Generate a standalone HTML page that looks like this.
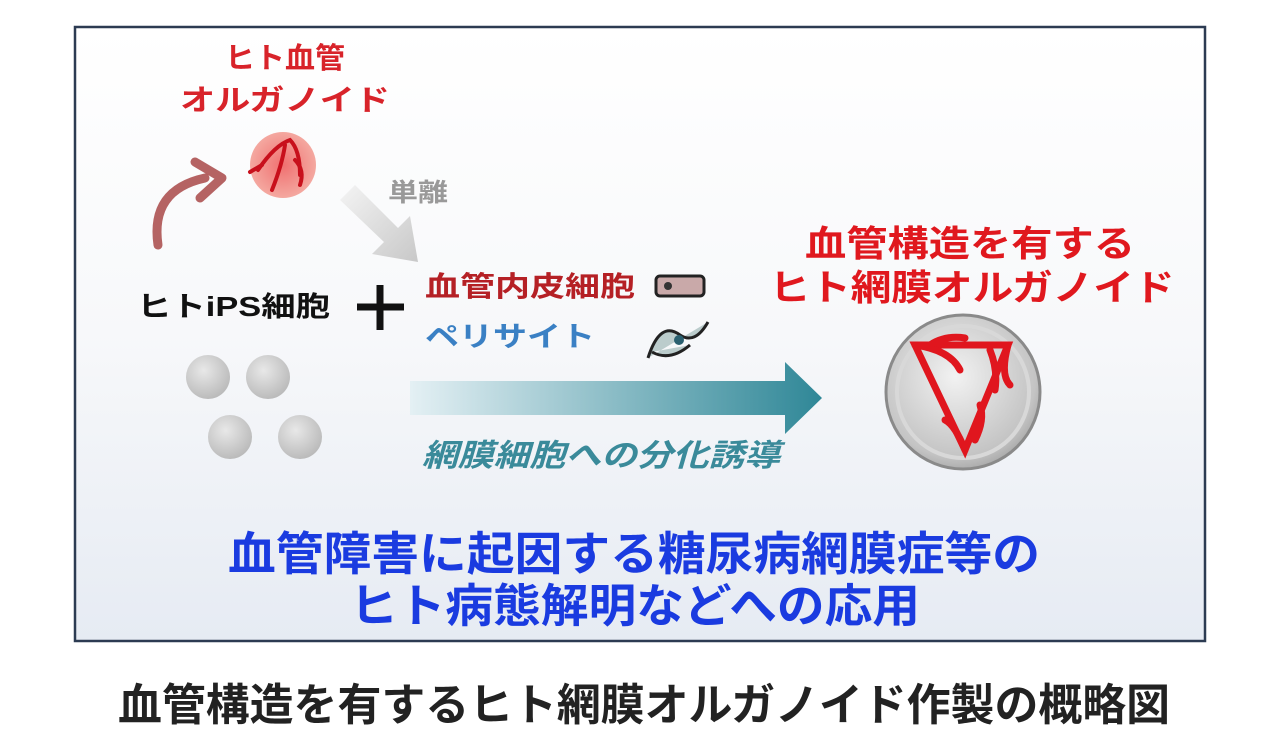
<!DOCTYPE html>
<html><head><meta charset="utf-8"><style>
html,body{margin:0;padding:0;background:#fff;}
svg{display:block;}
text{font-family:"Liberation Sans","Noto Sans CJK JP",sans-serif;font-weight:bold;}
</style></head><body>
<svg width="1280" height="748" viewBox="0 0 1280 748" xmlns="http://www.w3.org/2000/svg">
<defs>
<linearGradient id="bg" x1="0" y1="0" x2="0" y2="1">
<stop offset="0" stop-color="#ffffff"/><stop offset="0.5" stop-color="#f7f8fa"/><stop offset="1" stop-color="#e6ebf3"/>
</linearGradient>
<linearGradient id="ar" x1="0" y1="0" x2="1" y2="0">
<stop offset="0" stop-color="#e4f0f4"/><stop offset="1" stop-color="#2f8797"/>
</linearGradient>
<linearGradient id="ga" x1="0" y1="0" x2="1" y2="1">
<stop offset="0" stop-color="#f4f4f4"/><stop offset="1" stop-color="#c8c8c8"/>
</linearGradient>
<radialGradient id="gc" cx="0.4" cy="0.35" r="0.7">
<stop offset="0" stop-color="#e8e8e8"/><stop offset="1" stop-color="#b8b8b8"/>
</radialGradient>
<radialGradient id="big" cx="0.45" cy="0.4" r="0.65">
<stop offset="0" stop-color="#f2f2f2"/><stop offset="0.8" stop-color="#c4c4c4"/><stop offset="1" stop-color="#a0a0a0"/>
</radialGradient>
<radialGradient id="pk" cx="0.5" cy="0.5" r="0.5">
<stop offset="0" stop-color="#f07070"/><stop offset="1" stop-color="#f4a8a0"/>
</radialGradient>
</defs>
<rect x="75" y="27" width="1130" height="614" fill="url(#bg)" stroke="#2c3b52" stroke-width="2.5"/>

<text x="285" y="68" font-size="29" fill="#d8232a" font-weight="normal" text-anchor="middle" textLength="120" lengthAdjust="spacingAndGlyphs">ヒト血管</text>
<text x="285" y="110" font-size="29" fill="#d8232a" font-weight="normal" text-anchor="middle" textLength="210" lengthAdjust="spacingAndGlyphs">オルガノイド</text>
<circle cx="283" cy="165" r="33" fill="url(#pk)"/>
<g stroke="#c8101c" stroke-width="4" fill="none" stroke-linecap="round">
<path d="M258 170 Q275 145 290 140 Q300 150 300 175"/><path d="M285 145 Q282 165 272 190"/><path d="M295 160 Q305 170 300 185"/><path d="M262 165 L250 172"/>
</g>
<path d="M158 245 Q150 190 205 178" stroke="#a84848" stroke-width="9" fill="none" stroke-linecap="round" opacity="0.85"/>
<path d="M195 162 L222 178 L200 198" stroke="#a84848" stroke-width="9" fill="none" stroke-linecap="round" stroke-linejoin="round" opacity="0.85"/>
<text x="388" y="201" font-size="25" fill="#999" font-weight="normal" textLength="60" lengthAdjust="spacingAndGlyphs">単離</text>
<path d="M340 200 L355 185 L398 228 L410 216 L418 262 L372 254 L384 242 Z" fill="url(#ga)"/>

<text x="137" y="316" font-size="28" fill="#111" font-weight="normal" textLength="193" lengthAdjust="spacingAndGlyphs">ヒトiPS細胞</text>
<path d="M380 285 V330 M357 307 H404" stroke="#111" stroke-width="7"/>
<text x="425" y="296" font-size="28" fill="#b52025" font-weight="normal" textLength="210" lengthAdjust="spacingAndGlyphs">血管内皮細胞</text>
<rect x="656" y="276" width="48" height="20" rx="4" fill="#c9a9a9" stroke="#222" stroke-width="3"/>
<circle cx="668" cy="286" r="4" fill="#333"/>
<text x="425" y="346" font-size="28" fill="#3a80c4" font-weight="normal" textLength="170" lengthAdjust="spacingAndGlyphs">ペリサイト</text>
<path d="M648 358 Q660 320 680 335 Q695 345 708 322 M652 352 Q670 362 690 345" stroke="#222" stroke-width="3" fill="#bcc"/>
<circle cx="679" cy="340" r="5" fill="#2a6070"/>

<path d="M410 381 H785 V362 L822 398 L785 434 V415 H410 Z" fill="url(#ar)"/>
<text x="422" y="466" font-size="31" fill="#3a8a9a" font-style="italic" textLength="358" lengthAdjust="spacingAndGlyphs">網膜細胞への分化誘導</text>

<circle cx="208" cy="377" r="22" fill="url(#gc)"/>
<circle cx="268" cy="377" r="22" fill="url(#gc)"/>
<circle cx="230" cy="437" r="22" fill="url(#gc)"/>
<circle cx="300" cy="437" r="22" fill="url(#gc)"/>

<text x="970" y="256" font-size="36" fill="#e0181e" text-anchor="middle" textLength="330" lengthAdjust="spacingAndGlyphs">血管構造を有する</text>
<text x="972" y="300" font-size="36" fill="#e0181e" text-anchor="middle" textLength="405" lengthAdjust="spacingAndGlyphs">ヒト網膜オルガノイド</text>
<circle cx="963" cy="392" r="77" fill="url(#big)" stroke="#8a8a8a" stroke-width="3"/>
<circle cx="963" cy="392" r="66" fill="none" stroke="#d8d8d8" stroke-width="4"/>
<g stroke="#e0161e" stroke-width="7" fill="none" stroke-linecap="round">
<path d="M915 345 L965 450 L1008 345 Z"/>
<path d="M915 345 Q950 350 960 370"/><path d="M1008 345 Q1000 375 1010 385"/><path d="M965 450 Q955 425 945 420"/>
<path d="M930 345 Q945 335 965 338"/><path d="M990 350 Q998 370 995 390"/><path d="M975 440 Q985 420 980 405"/>
</g>

<text x="228" y="570" font-size="46" fill="#1a3be0" textLength="812" lengthAdjust="spacingAndGlyphs">血管障害に起因する糖尿病網膜症等の</text>
<text x="350" y="622" font-size="46" fill="#1a3be0" textLength="570" lengthAdjust="spacingAndGlyphs">ヒト病態解明などへの応用</text>

<text x="118" y="720" font-size="44" fill="#222" textLength="1052" lengthAdjust="spacingAndGlyphs">血管構造を有するヒト網膜オルガノイド作製の概略図</text>
</svg>
</body></html>
